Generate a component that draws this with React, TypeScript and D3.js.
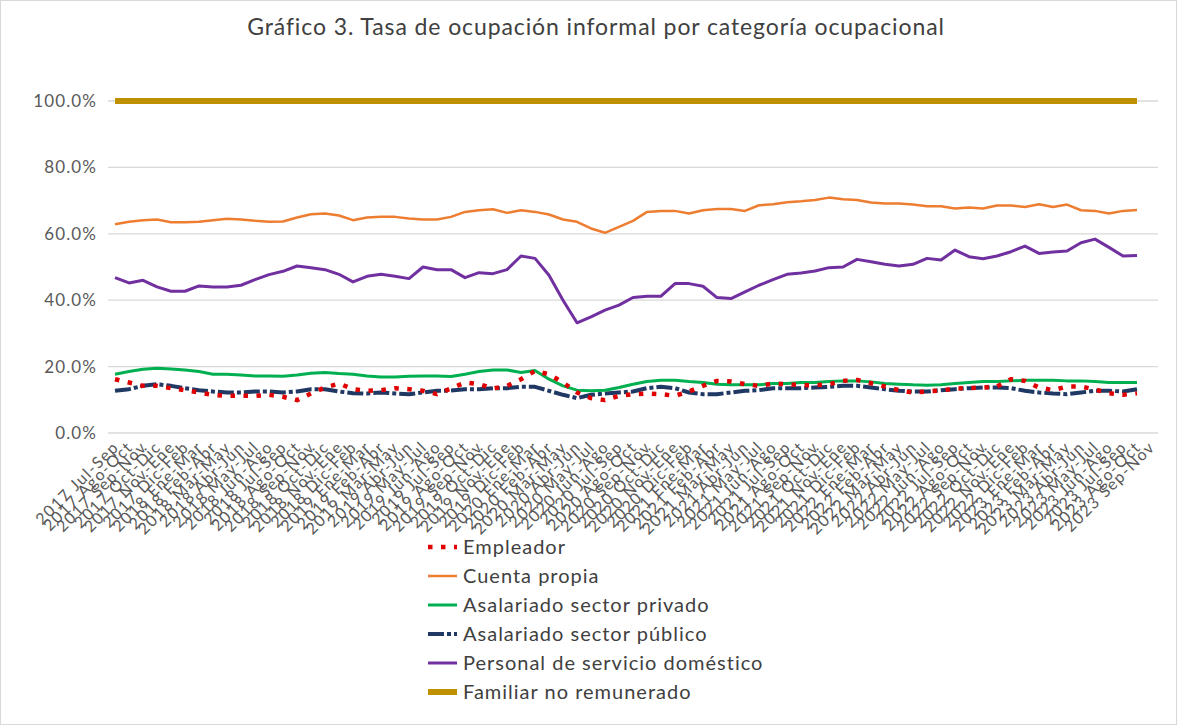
import * as d3 from "d3";

const title = "Gráfico 3. Tasa de ocupación informal por categoría ocupacional";

const months = ["Ene", "Feb", "Mar", "Abr", "May", "Jun", "Jul", "Ago", "Sep", "Oct", "Nov", "Dic"];
// rolling quarters, first one 2017 Jul-Sep
const startYear = 2017;
const startMonth = 6;
const nCategories = 75;
const categories: string[] = d3.range(nCategories).map((i) => {
  const m = startMonth + i;
  const y = startYear + Math.floor(m / 12);
  return `${y} ${months[m % 12]}-${months[(m + 2) % 12]}`;
});

const empleador = [
  16.2, 15.2, 14.2, 14.2, 13.5, 12.9, 12.2, 11.5, 11.2, 11.2, 11.2, 11.5, 10.9, 9.9, 11.9, 13.7, 14.9, 13.2, 12.7,
  12.9, 13.5, 13.2, 12.7, 11.7, 13.4, 15.2, 14.7, 13.4, 14.2, 16.2, 18.7, 17.7, 15.2, 12.2, 10.5, 9.9, 11.2, 11.7,
  11.9, 11.7, 11.2, 12.5, 14.2, 15.7, 15.5, 14.7, 14.2, 14.9, 14.7, 14.4, 14.4, 14.7, 15.7, 16.0, 15.0, 14.0, 12.9,
  12.2, 12.5, 12.8, 13.4, 13.5, 13.7, 14.0, 16.2, 15.7, 13.7, 12.9, 14.0, 14.0, 13.1, 12.0, 11.5, 12.0,
];
const cuentaPropia = [
  62.9, 63.6, 64.1, 64.3, 63.5, 63.5, 63.6, 64.1, 64.5, 64.3, 63.9, 63.6, 63.7, 64.9, 65.9, 66.1, 65.5, 64.1, 64.9,
  65.1, 65.1, 64.6, 64.3, 64.3, 65.1, 66.6, 67.1, 67.4, 66.3, 67.1, 66.6, 65.8, 64.3, 63.6, 61.6, 60.3, 62.1, 63.9,
  66.6, 66.9, 66.9, 66.1, 67.1, 67.5, 67.5, 66.9, 68.6, 68.9, 69.5, 69.8, 70.2, 70.9, 70.4, 70.2, 69.4, 69.1, 69.1,
  68.8, 68.3, 68.3, 67.6, 67.9, 67.6, 68.5, 68.5, 68.1, 68.9, 68.1, 68.8, 67.1, 66.9, 66.1, 66.9, 67.2,
];
const privado = [
  17.7, 18.5, 19.2, 19.5, 19.3, 19.0, 18.5, 17.7, 17.7, 17.5, 17.2, 17.2, 17.1, 17.5, 18.0, 18.2, 17.9, 17.7, 17.2,
  16.9, 16.9, 17.1, 17.2, 17.2, 17.0, 17.7, 18.5, 19.0, 19.0, 18.2, 18.8, 16.2, 14.2, 12.9, 12.7, 12.9, 13.7, 14.7,
  15.5, 15.9, 15.9, 15.5, 15.2, 14.7, 14.5, 14.5, 14.5, 14.9, 14.9, 15.2, 15.2, 15.5, 15.7, 15.7, 15.4, 14.9, 14.7,
  14.5, 14.4, 14.5, 14.9, 15.2, 15.5, 15.5, 15.7, 15.9, 15.9, 15.9, 15.7, 15.7, 15.5, 15.2, 15.2, 15.2,
];
const publico = [
  12.7, 13.2, 14.2, 14.7, 14.2, 13.5, 12.9, 12.5, 12.2, 12.2, 12.5, 12.5, 12.2, 12.5, 13.2, 13.2, 12.5, 12.0, 11.9,
  12.2, 11.9, 11.7, 12.2, 12.7, 12.8, 13.2, 13.2, 13.5, 13.5, 13.9, 13.9, 12.7, 11.5, 10.5, 11.5, 11.9, 12.2, 12.5,
  13.5, 13.9, 13.5, 12.2, 11.7, 11.7, 12.2, 12.7, 12.9, 13.5, 13.5, 13.5, 13.7, 13.9, 14.2, 14.2, 13.7, 13.2, 12.7,
  12.5, 12.5, 12.9, 13.2, 13.5, 13.7, 13.7, 13.5, 12.7, 12.2, 11.9, 11.7, 12.2, 12.7, 12.7, 12.5, 13.2,
];
const domestico = [
  46.8, 45.2, 46.0, 44.0, 42.7, 42.7, 44.3, 44.0, 44.0, 44.5, 46.2, 47.7, 48.7, 50.3, 49.8, 49.2, 47.8, 45.5, 47.2,
  47.8, 47.2, 46.5, 50.0, 49.2, 49.2, 46.8, 48.3, 48.0, 49.2, 53.3, 52.6, 47.5, 40.0, 33.2, 35.0, 37.0, 38.5, 40.8,
  41.2, 41.2, 45.0, 45.0, 44.2, 40.8, 40.5, 42.5, 44.5, 46.2, 47.8, 48.2, 48.8, 49.8, 50.0, 52.3, 51.6, 50.8, 50.3,
  50.8, 52.6, 52.1, 55.1, 53.1, 52.5, 53.3, 54.6, 56.3, 54.1, 54.5, 54.8, 57.3, 58.4, 55.9, 53.3, 53.5,
];
const familiar = empleador.map(() => 100.0);

const yTicks = [0, 20, 40, 60, 80, 100];

type Serie = { name: string; values: number[]; color: string; width: number; dash?: string };

const series: Serie[] = [
  { name: "Empleador", values: empleador, color: "#E00000", width: 4.5, dash: "4.5 8.5" },
  { name: "Cuenta propia", values: cuentaPropia, color: "#ED7D31", width: 2.5 },
  { name: "Asalariado sector privado", values: privado, color: "#00B050", width: 3 },
  { name: "Asalariado sector público", values: publico, color: "#1F3864", width: 4, dash: "16 3 4 3" },
  { name: "Personal de servicio doméstico", values: domestico, color: "#7030A0", width: 3 },
  { name: "Familiar no remunerado", values: familiar, color: "#BF9000", width: 6 },
];

const W = 1177;
const H = 725;
const plot = { left: 108, right: 1158, top: 101, bottom: 433 };
const font = "Lato, 'Open Sans', sans-serif";

export default function App() {
  const x = d3.scalePoint<string>().domain(categories).range([plot.left, plot.right]).padding(0.5);
  const y = d3.scaleLinear().domain([0, 100]).range([plot.bottom, plot.top]);

  const line = d3
    .line<number>()
    .x((_, i) => x(categories[i]) ?? 0)
    .y((d) => y(d));

  return (
    <>
      <style>{`body{margin:0}`}</style>
      <svg width={W} height={H} style={{ display: "block", background: "#fff" }}>
        <rect x={0.5} y={0.5} width={W - 1} height={H - 1} fill="none" stroke="#D9D9D9" />
        <text x={596} y={35} textAnchor="middle" fontFamily={font} fontSize={23} letterSpacing={0.9} fill="#404040">
          {title}
        </text>

        {yTicks.map((t) => (
          <g key={t}>
            <line x1={plot.left} x2={plot.right} y1={y(t)} y2={y(t)} stroke="#D9D9D9" strokeWidth={1.3} />
            <text
              x={97}
              y={y(t)}
              dy="0.35em"
              textAnchor="end"
              fontFamily={font}
              fontSize={17}
              letterSpacing={1.1}
              fill="#595959"
            >
              {t.toFixed(1)}%
            </text>
          </g>
        ))}

        {categories.map((c) => (
          <text
            key={c}
            transform={`translate(${(x(c) ?? 0) + 5},${plot.bottom + 15}) rotate(-45)`}
            textAnchor="end"
            fontFamily={font}
            fontSize={16}
            letterSpacing={1.5}
            fill="#595959"
          >
            {c}
          </text>
        ))}

        {series
          .slice()
          .reverse()
          .map((s) => (
            <path
              key={s.name}
              d={line(s.values) ?? ""}
              fill="none"
              stroke={s.color}
              strokeWidth={s.width}
              strokeDasharray={s.dash}
              strokeLinejoin="round"
            />
          ))}

        {series.map((s, i) => {
          const ly = 547 + i * 29;
          return (
            <g key={s.name}>
              <line
                x1={428}
                x2={457}
                y1={ly}
                y2={ly}
                stroke={s.color}
                strokeWidth={s.width}
                strokeDasharray={s.dash}
              />
              <text x={463} y={ly} dy="0.35em" fontFamily={font} fontSize={20} letterSpacing={1} fill="#404040">
                {s.name}
              </text>
            </g>
          );
        })}
      </svg>
    </>
  );
}
